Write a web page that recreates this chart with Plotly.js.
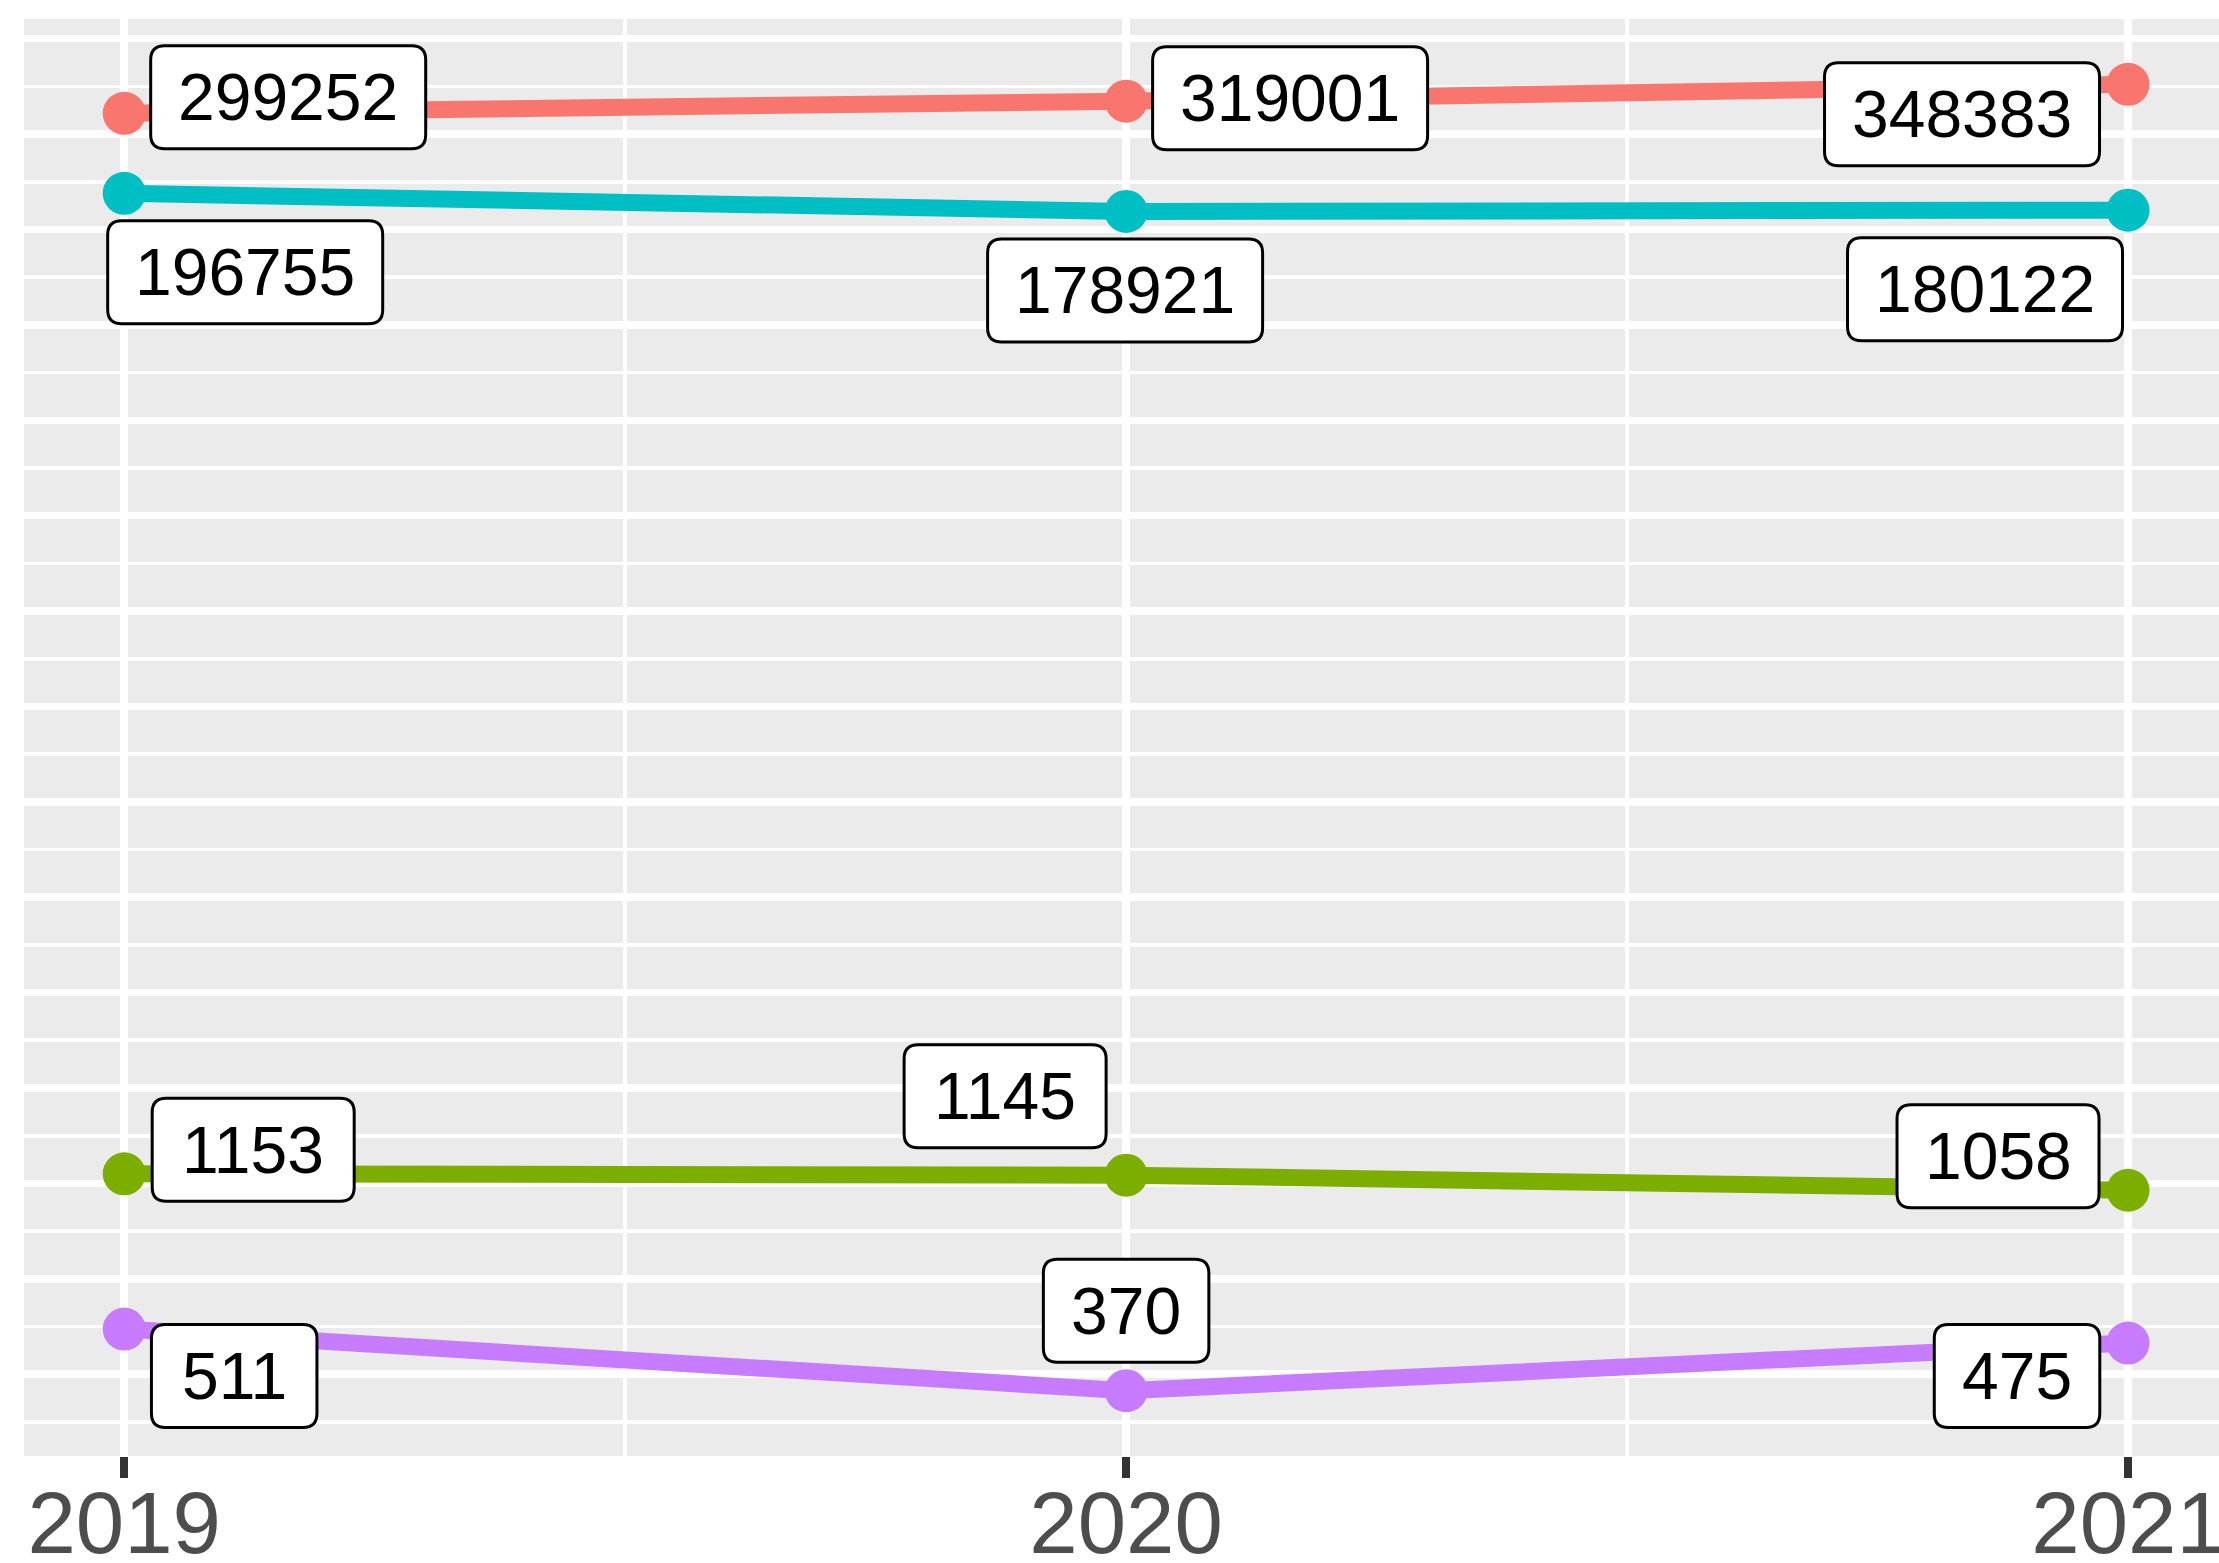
<!DOCTYPE html>
<html>
<head>
<meta charset="utf-8">
<script src="https://cdn.plot.ly/plotly-3.0.1.min.js"></script>
<style>html,body{margin:0;padding:0;background:#fff;}#chart{width:2219px;height:1563px;}</style>
</head>
<body>
<div id="chart"></div>
<script>
// ---- data ----
const years = [2019, 2020, 2021];
const tickLabels = ['2019', '2020', '2021'];
const seriesRed = [299252, 319001, 348383];
const seriesCyan = [196755, 178921, 180122];
const seriesGreen = [1153, 1145, 1058];
const seriesPurple = [511, 370, 475];

// ---- styling / label placement (pixels: dx right, dy down) ----
const colors = ['#F8766D', '#00BFC4', '#7CAE00', '#C77CFF'];
const allSeries = [seriesRed, seriesCyan, seriesGreen, seriesPurple];
const labelOffsets = [
  [[164, -16], [164, -3], [-166, 30]],
  [[121, 79], [-1, 79], [-143, 79]],
  [[129, -24], [-121, -79], [-130, -34]],
  [[110, 47], [0, -80], [-111, 33]]
];

const FONT = 'Liberation Sans, Arial, Helvetica, sans-serif';

function roundRect(cx, cy, w, h, r) {
  const x0 = cx - w / 2, x1 = cx + w / 2, y0 = cy - h / 2, y1 = cy + h / 2;
  return 'M ' + (x0 + r) + ' ' + y0 + ' L ' + (x1 - r) + ' ' + y0 +
    ' Q ' + x1 + ' ' + y0 + ' ' + x1 + ' ' + (y0 + r) +
    ' L ' + x1 + ' ' + (y1 - r) +
    ' Q ' + x1 + ' ' + y1 + ' ' + (x1 - r) + ' ' + y1 +
    ' L ' + (x0 + r) + ' ' + y1 +
    ' Q ' + x0 + ' ' + y1 + ' ' + x0 + ' ' + (y1 - r) +
    ' L ' + x0 + ' ' + (y0 + r) +
    ' Q ' + x0 + ' ' + y0 + ' ' + (x0 + r) + ' ' + y0 + ' Z';
}

const traces = allSeries.map((vals, i) => ({
  type: 'scatter',
  mode: 'lines+markers',
  x: years,
  y: vals,
  line: {color: colors[i], width: 17},
  marker: {color: colors[i], size: 43},
  hoverinfo: 'skip',
  showlegend: false
}));

const annotations = [];
const shapes = [];
allSeries.forEach((vals, i) => {
  vals.forEach((v, j) => {
    const txt = String(v);
    const dx = labelOffsets[i][j][0], dy = labelOffsets[i][j][1];
    const w = txt.length * 36.5 + 56, h = 103;
    shapes.push({
      type: 'path', xref: 'x', yref: 'y',
      xsizemode: 'pixel', ysizemode: 'pixel',
      xanchor: years[j], yanchor: v,
      path: roundRect(dx, -dy, w, h, 14),
      fillcolor: '#FFFFFF',
      line: {color: '#000000', width: 3},
      layer: 'above'
    });
    annotations.push({
      x: years[j], y: Math.log10(v), xref: 'x', yref: 'y',
      text: txt, showarrow: false,
      xanchor: 'center', yanchor: 'middle',
      xshift: dx, yshift: -dy,
      font: {family: FONT, size: 66, color: '#000000'}
    });
  });
});

// log-scale limits with 5% expansion (natural-log gridlines every 0.5)
const lnAll = allSeries.flat().map(v => Math.log(v));
const lnMin = Math.min(...lnAll), lnMax = Math.max(...lnAll);
const pad = 0.05 * (lnMax - lnMin);
const yRange = [(lnMin - pad) / Math.LN10, (lnMax + pad) / Math.LN10];
const majorY = [], minorY = [];
for (let k = 12; k <= 26; k++) majorY.push(Math.exp(k / 2));
for (let k = 11; k <= 25; k++) minorY.push(Math.exp(k / 2 + 0.25));

const layout = {
  width: 2219, height: 1563,
  margin: {l: 24, r: 0, t: 19, b: 107},
  paper_bgcolor: '#FFFFFF',
  plot_bgcolor: '#EBEBEB',
  showlegend: false,
  xaxis: {
    range: [2018.9, 2021.0908],
    tickmode: 'array', tickvals: years, ticktext: tickLabels,
    showgrid: true, gridcolor: '#FFFFFF', gridwidth: 7.5,
    minor: {tickmode: 'array', tickvals: [2019.5, 2020.5], showgrid: true, gridcolor: '#FFFFFF', gridwidth: 3.7, ticks: ''},
    zeroline: false, showline: false,
    ticks: 'outside', ticklen: 21, tickwidth: 7.5, tickcolor: '#333333',
    tickfont: {family: FONT, size: 87, color: '#4D4D4D'},
    ticklabeloverflow: 'allow',
    ticklabelstandoff: -29,
    automargin: false,
    fixedrange: true
  },
  yaxis: {
    type: 'log', range: yRange,
    tickmode: 'array', tickvals: majorY,
    showticklabels: false, ticks: '',
    showgrid: true, gridcolor: '#FFFFFF', gridwidth: 7.5,
    minor: {tickmode: 'array', tickvals: minorY, showgrid: true, gridcolor: '#FFFFFF', gridwidth: 3.7, ticks: ''},
    zeroline: false, showline: false,
    automargin: false,
    fixedrange: true
  },
  shapes: shapes,
  annotations: annotations
};

Plotly.newPlot('chart', traces, layout, {displayModeBar: false, staticPlot: true});
</script>
</body>
</html>
